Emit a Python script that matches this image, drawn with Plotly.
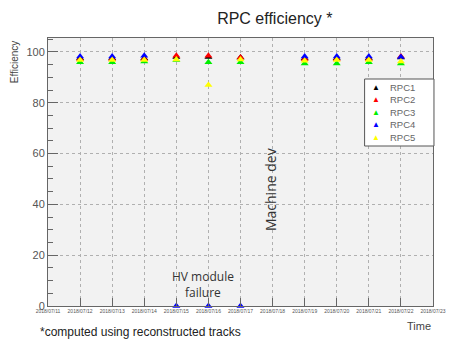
import plotly.graph_objects as go

dates = ["2018-07-12", "2018-07-13", "2018-07-14", "2018-07-15", "2018-07-16",
         "2018-07-17", "2018-07-19", "2018-07-20", "2018-07-21", "2018-07-22"]
rpc1 = [97.5, 97.5, 97.5, 98.0, 98.0, 97.8, 97.5, 97.5, 97.5, 97.8]
rpc2 = [97.2, 97.2, 97.2, 98.5, 98.5, 97.8, 97.2, 97.2, 97.2, 98.2]
rpc3 = [96.0, 96.0, 96.2, 96.8, 96.0, 96.0, 95.5, 95.5, 96.0, 95.5]
rpc4 = [98.2, 98.2, 98.5, 0.0, 0.0, 0.0, 98.2, 98.2, 98.2, 98.0]
rpc5 = [96.8, 96.8, 96.8, 97.0, 87.0, 97.0, 96.5, 96.8, 96.8, 96.2]

names = ["RPC1", "RPC2", "RPC3", "RPC4", "RPC5"]
colors = ["black", "red", "#00ee00", "blue", "yellow"]
values = [rpc1, rpc2, rpc3, rpc4, rpc5]

tick_dates = ["2018-07-%02d" % d for d in range(11, 24)]
tick_text = ["2018/07/%02d" % d for d in range(11, 24)]

fig = go.Figure()
for name, vals, col in zip(names, values, colors):
    fig.add_trace(go.Scatter(x=dates, y=vals, mode="markers", name=name, showlegend=False,
                             cliponaxis=False,
                             marker=dict(symbol="triangle-up", size=7, color=col,
                                         line=dict(width=0))))

fig.update_layout(
    width=458, height=339,
    margin=dict(l=48, r=16, t=38, b=33),
    paper_bgcolor="white", plot_bgcolor="#f2f2f2",
    font=dict(family="Liberation Sans, Arial", color="#333"),
    title=dict(text="RPC efficiency *", x=0.6, xanchor="center", y=0.945, yanchor="middle",
               font=dict(size=16, color="#222")),
    showlegend=False,
    xaxis=dict(type="date", range=["2018-07-11", "2018-07-23"],
               tickvals=tick_dates, ticktext=tick_text, tickfont=dict(size=5, color="#555"),
               ticks="inside", ticklen=8, tickcolor="#666",
               showgrid=True, gridcolor="#b0b0b0", griddash="dot", gridwidth=1,
               showline=True, linecolor="#666", linewidth=1, mirror=True, zeroline=False),
    yaxis=dict(range=[0, 105.5], tickvals=[0, 20, 40, 60, 80, 100],
               tickfont=dict(size=11, color="#555"),
               ticks="inside", ticklen=10, tickcolor="#666",
               minor=dict(dtick=5, ticks="inside", ticklen=5, tickcolor="#666", showgrid=False),
               showgrid=True, gridcolor="#b0b0b0", griddash="dot", gridwidth=1,
               showline=True, linecolor="#666", linewidth=1, mirror=True, zeroline=False),
)

# custom legend box (compact like ROOT TLegend)
px2x = lambda p: (p - 48) / 394.0
px2y = lambda p: (306 - p) / 268.0
fig.add_shape(type="rect", xref="paper", yref="paper",
              x0=px2x(372), x1=px2x(443), y0=px2y(146), y1=px2y(79),
              line=dict(color="#555", width=1), fillcolor="white", layer="above")
for i, (name, col) in enumerate(zip(names, colors)):
    yp = px2y(87 + i * 12.6)
    fig.add_annotation(text="▲", xref="paper", yref="paper", x=px2x(384), y=yp,
                       xanchor="center", yanchor="middle", showarrow=False,
                       font=dict(size=8, color=col))
    fig.add_annotation(text=name, xref="paper", yref="paper", x=px2x(396), y=yp,
                       xanchor="left", yanchor="middle", showarrow=False,
                       font=dict(size=9.5, color="#666"))

fig.add_annotation(text="Efficiency", xref="paper", yref="paper", x=px2x(14), y=1.0,
                   xanchor="center", yanchor="top", textangle=-90, showarrow=False,
                   font=dict(size=10, color="#444"))
fig.add_annotation(text="HV module<br>failure", x="2018-07-15 20:00", y=1, xref="x", yref="y",
                   showarrow=False, yanchor="bottom",
                   font=dict(family="Open Sans", size=12, color="#333"))
fig.add_annotation(text="Machine dev", x="2018-07-17 22:00", y=46, xref="x", yref="y",
                   showarrow=False, textangle=-90,
                   font=dict(family="Open Sans", size=14, color="#333"))
fig.add_annotation(text="*computed using reconstructed tracks", xref="paper", yref="paper",
                   x=px2x(38), y=px2y(323), xanchor="left", yanchor="top", showarrow=False,
                   font=dict(size=12, color="#222"))
fig.add_annotation(text="Time", xref="paper", yref="paper", x=1.0, y=px2y(318),
                   xanchor="right", yanchor="top", showarrow=False,
                   font=dict(size=11, color="#444"))

fig.write_html("out.html")
